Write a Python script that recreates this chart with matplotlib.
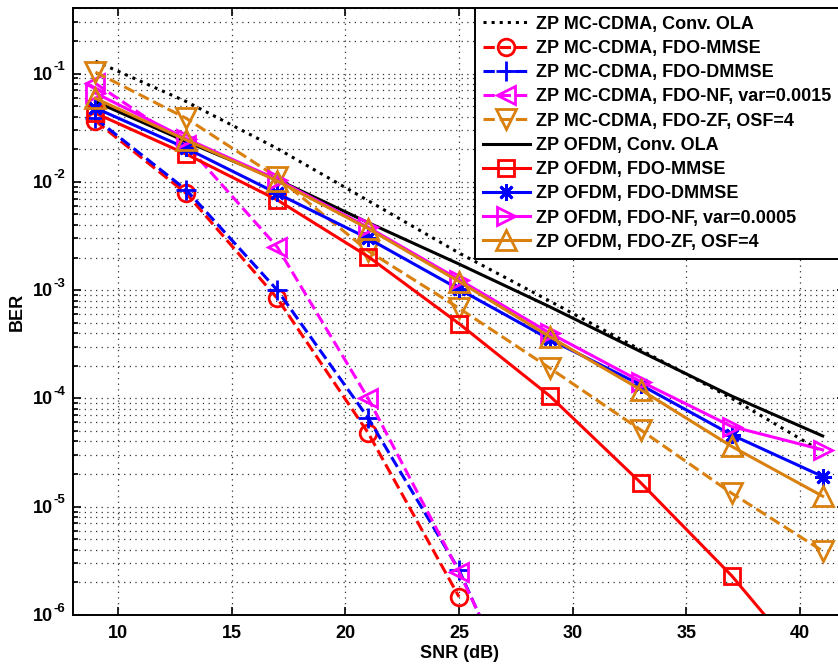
import numpy as np
import matplotlib
matplotlib.use("Agg")
import matplotlib.pyplot as plt
import matplotlib.transforms as mtransforms
from matplotlib.ticker import LogLocator, FixedLocator, NullFormatter

plt.rcParams["font.family"] = ["Liberation Sans", "DejaVu Sans"]
plt.rcParams["font.weight"] = "bold"

nan = np.nan
snr = [9, 13, 17, 21, 25, 29, 33, 37, 41]

mc_ola = [0.13, 0.055, 0.0203, 0.0067, 0.0022, 7.9e-4, 2.8e-4, 1.0e-4, 3.2e-5]
mc_mmse = [0.0365, 0.0078, 0.00084, 4.8e-5, 1.47e-6, nan, nan, nan, nan]
mc_dmmse = [0.0385, 0.0084, 0.0010, 6.6e-5, 2.6e-6, 3.5e-8, nan, nan, nan]
mc_nf = [0.081, 0.022, 0.0025, 1.0e-4, 2.5e-6, 4.2e-8, nan, nan, nan]
mc_zf = [0.103, 0.0385, 0.011, 0.0023, 6.8e-4, 1.9e-4, 5.1e-5, 1.33e-5, 3.9e-6]
ofdm_ola = [0.055, 0.0235, 0.0105, 0.0042, 0.00174, 7.0e-4, 2.7e-4, 1.05e-4, 4.5e-5]
ofdm_mmse = [0.043, 0.018, 0.0068, 0.00204, 4.9e-4, 1.05e-4, 1.66e-5, 2.3e-6, 2.3e-7]
ofdm_dmmse = [0.048, 0.0204, 0.0078, 0.0030, 1.02e-3, 3.5e-4, 1.33e-4, 4.6e-5, 1.9e-5]
ofdm_nf = [0.066, 0.025, 0.0105, 0.0038, 1.25e-3, 4.0e-4, 1.43e-4, 5.5e-5, 3.35e-5]
ofdm_zf = [0.059, 0.0243, 0.0102, 0.0037, 1.2e-3, 3.7e-4, 1.2e-4, 3.6e-5, 1.25e-5]

labels = [
    "ZP MC-CDMA, Conv. OLA",
    "ZP MC-CDMA, FDO-MMSE",
    "ZP MC-CDMA, FDO-DMMSE",
    "ZP MC-CDMA, FDO-NF, var=0.0015",
    "ZP MC-CDMA, FDO-ZF, OSF=4",
    "ZP OFDM, Conv. OLA",
    "ZP OFDM, FDO-MMSE",
    "ZP OFDM, FDO-DMMSE",
    "ZP OFDM, FDO-NF, var=0.0005",
    "ZP OFDM, FDO-ZF, OSF=4",
]
series = [mc_ola, mc_mmse, mc_dmmse, mc_nf, mc_zf,
          ofdm_ola, ofdm_mmse, ofdm_dmmse, ofdm_nf, ofdm_zf]
decades = [1, 2, 3, 4, 5, 6]

ORANGE = "#D9800F"
# (color, linestyle, marker, markersize)
styles = [
    ("black", ":", None, 0),
    ("red", "--", "o", 12),
    ("blue", "--", "+", 14),
    ("magenta", "--", "<", 13),
    (ORANGE, "--", "v", 14),
    ("black", "-", None, 0),
    ("red", "-", "s", 11),
    ("blue", "-", (8, 2, 0), 12),
    ("magenta", "-", ">", 13),
    (ORANGE, "-", "^", 14),
]

W, H = 838, 666
FS = 13
fig = plt.figure(figsize=(W / 100, H / 100), dpi=100)
ax_w = (845.4 - 72.7)
ax = fig.add_axes([72.7 / W, 51 / H, ax_w / W, (615 - 8.3) / H])

for y, lab, (c, ls, m, ms) in zip(series, labels, styles):
    kw = {}
    if m is not None:
        kw = dict(marker=m, markersize=ms, markerfacecolor="none",
                  markeredgecolor=c, markeredgewidth=2)
    ax.semilogy(snr, y, color=c, linestyle=ls, linewidth=2.2, label=lab, **kw)

ax.set_xlim(8, 42)
ax.set_ylim(1e-6, 0.4)
ax.xaxis.set_major_locator(FixedLocator([10, 15, 20, 25, 30, 35, 40]))
ax.yaxis.set_major_locator(FixedLocator([10.0 ** -k for k in decades]))
ax.yaxis.set_major_formatter(NullFormatter())
ax.yaxis.set_minor_locator(LogLocator(base=10, subs=np.arange(2, 10)))
ax.yaxis.set_minor_formatter(NullFormatter())

# MATLAB-style labels: "10" with a small hyphen exponent
blend = mtransforms.blended_transform_factory(ax.transAxes, ax.transData)
x_ten = (53 - 72.7) / ax_w
for k in decades:
    ax.text(x_ten, 10.0 ** -k, "10", ha="right", va="center", fontsize=FS,
            fontweight="bold", transform=mtransforms.offset_copy(
                blend, fig=fig, x=0, y=-1.5, units="dots"))
    ax.text(x_ten, 10.0 ** -k, "-%d" % k, ha="left", va="center",
            fontsize=9.5, fontweight="bold", transform=mtransforms.offset_copy(
                blend, fig=fig, x=0.5, y=6.5, units="dots"))

grid_kw = dict(color="#333333", linestyle=(0, (1, 3.5)), linewidth=0.9)
ax.grid(True, which="major", axis="both", **grid_kw)
ax.grid(True, which="minor", axis="y", **grid_kw)

ax.tick_params(which="both", direction="in", top=True, right=True,
               labelsize=FS, width=1.2)
ax.tick_params(which="major", length=6, pad=7)
ax.tick_params(which="minor", length=3.5)
for s in ax.spines.values():
    s.set_linewidth(1.4)

ax.set_xlabel("SNR (dB)", fontsize=FS, fontweight="bold", labelpad=2)
ax.set_ylabel("BER", fontsize=FS, fontweight="bold")
ax.yaxis.set_label_coords((26 - 72.7) / ax_w, 0.5)

leg = fig.legend(loc="upper left", bbox_to_anchor=(474.5 / W, 1 - 7.6 / H),
                 bbox_transform=fig.transFigure, fontsize=FS, numpoints=1,
                 handlelength=2.6, handletextpad=0.35, labelspacing=0.4,
                 borderpad=0.45, borderaxespad=0, fancybox=False,
                 framealpha=1, edgecolor="black")
leg.get_frame().set_linewidth(1.4)
for t in leg.get_texts():
    t.set_fontweight("bold")

fig.savefig("out.png", dpi=100)
